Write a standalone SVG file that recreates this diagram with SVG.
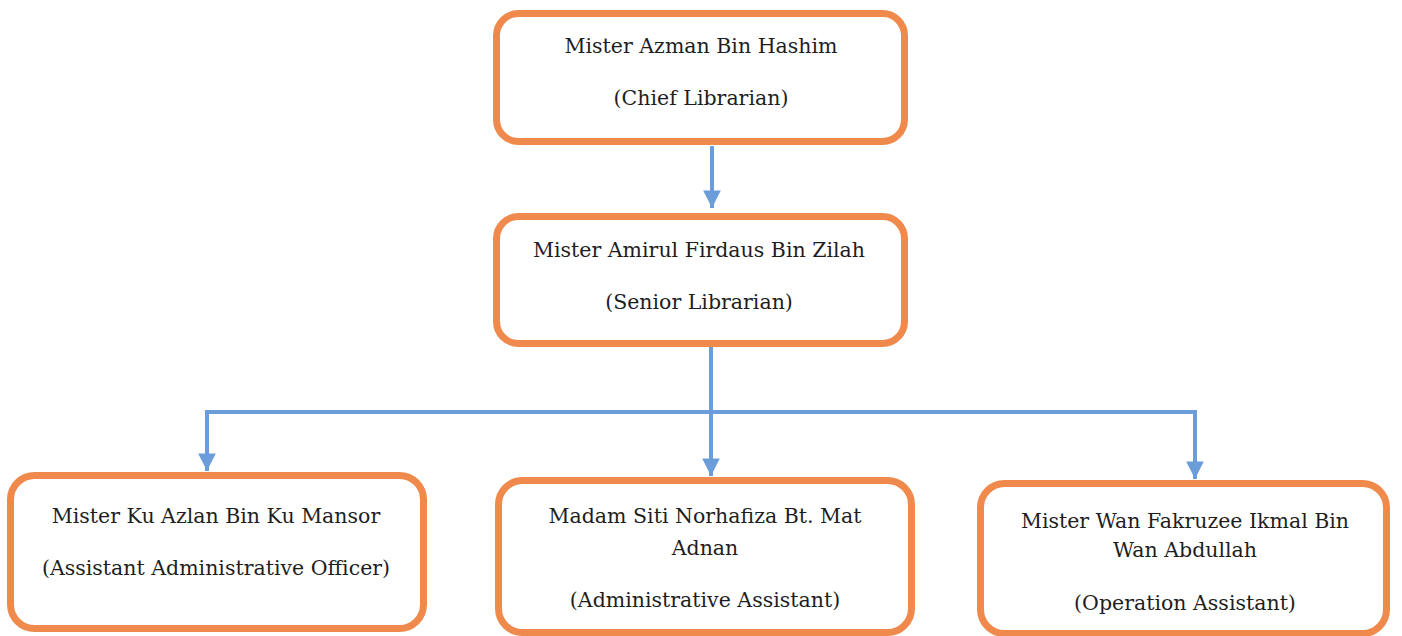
<svg xmlns="http://www.w3.org/2000/svg" width="1402" height="636" viewBox="0 0 1402 636">
<style>
.box{fill:#ffffff;stroke:#EF8A4C;stroke-width:7}
.lbl{font-family:"DejaVu Serif",serif;font-size:20.5px;fill:#1e1e1e;text-anchor:middle}
.con{fill:none;stroke:#6A9DDA;stroke-width:4}
</style>
<defs>
<marker id="ah" viewBox="0 0 10 10" refX="10" refY="5" markerWidth="4.4" markerHeight="4.4" orient="auto" markerUnits="strokeWidth">
<path d="M0,0 L10,5 L0,10 Z" fill="#6A9DDA"/>
</marker>
</defs>
<rect width="1402" height="636" fill="#ffffff"/>
<g id="connectors">
<line class="con" x1="712" y1="146" x2="712" y2="208" marker-end="url(#ah)"/>
<line class="con" x1="711" y1="347" x2="711" y2="476" marker-end="url(#ah)"/>
<line class="con" x1="205" y1="412" x2="1197" y2="412"/>
<line class="con" x1="207" y1="410" x2="207" y2="471" marker-end="url(#ah)"/>
<line class="con" x1="1195" y1="410" x2="1195" y2="479" marker-end="url(#ah)"/>
</g>
<g id="n1">
<rect class="box" x="496.5" y="13.5" width="408" height="128" rx="22"/>
<text class="lbl" x="701" y="53">Mister Azman Bin Hashim</text>
<text class="lbl" x="701" y="105">(Chief Librarian)</text>
</g>
<g id="n2">
<rect class="box" x="496.5" y="216.5" width="408" height="127" rx="22"/>
<text class="lbl" x="699" y="257">Mister Amirul Firdaus Bin Zilah</text>
<text class="lbl" x="699" y="309">(Senior Librarian)</text>
</g>
<g id="n3">
<rect class="box" x="10.5" y="475.5" width="413" height="153" rx="24"/>
<text class="lbl" x="216" y="523">Mister Ku Azlan Bin Ku Mansor</text>
<text class="lbl" x="216" y="575">(Assistant Administrative Officer)</text>
</g>
<g id="n4">
<rect class="box" x="498.5" y="480.5" width="413" height="152" rx="24"/>
<text class="lbl" x="705" y="523">Madam Siti Norhafiza Bt. Mat</text>
<text class="lbl" x="705" y="555">Adnan</text>
<text class="lbl" x="705" y="607">(Administrative Assistant)</text>
</g>
<g id="n5">
<rect class="box" x="980.5" y="483.5" width="406" height="150" rx="24"/>
<text class="lbl" x="1185" y="528">Mister Wan Fakruzee Ikmal Bin</text>
<text class="lbl" x="1185" y="557">Wan Abdullah</text>
<text class="lbl" x="1185" y="610">(Operation Assistant)</text>
</g>
</svg>
